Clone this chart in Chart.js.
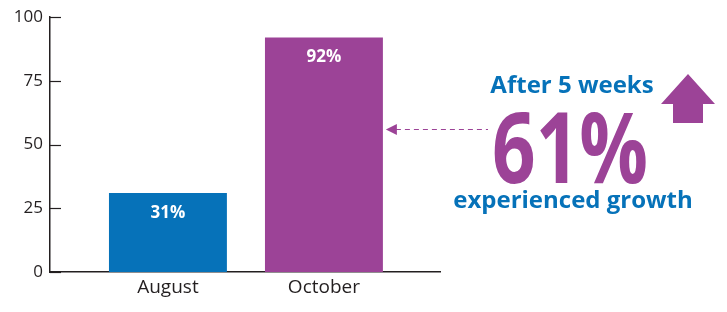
<!DOCTYPE html>
<html>
<head>
<meta charset="utf-8">
<script src="https://cdn.jsdelivr.net/npm/chart.js@4/dist/chart.umd.min.js"></script>
<style>
html,body{margin:0;padding:0;background:#fff;}
#wrap{width:727px;height:312px;position:relative;}
</style>
</head>
<body>
<div id="wrap"><canvas id="c" width="727" height="312"></canvas></div>
<script>
const categories = ['August', 'October'];
const values = [31, 92];
const barColors = ['#0672B9', '#9C4397'];
const yTicks = [0, 25, 50, 75, 100];
const headline = ['After 5 weeks', '61%', 'experienced growth'];

const FONT = '"Open Sans", sans-serif';
const AXIS = '#231F20';
const BLUE = '#0672B9';
const PURPLE = '#9C4397';

const points = values.map((v, i) => ({ x: i + 1, y: v }));

const decor = {
  id: 'decor',
  afterDatasetsDraw(chart) {
    const ctx = chart.ctx;
    const y = chart.scales.y;
    ctx.save();
    // inward y ticks
    ctx.strokeStyle = AXIS;
    ctx.lineWidth = 1.2;
    yTicks.forEach(t => {
      const py = Math.round(y.getPixelForValue(t)) + 0.5;
      ctx.beginPath();
      ctx.moveTo(chart.chartArea.left, py);
      ctx.lineTo(chart.chartArea.left + 11, py);
      ctx.stroke();
    });
    // bar value labels
    const meta = chart.getDatasetMeta(0);
    ctx.fillStyle = '#fff';
    ctx.font = 'bold 17px ' + FONT;
    ctx.textAlign = 'center';
    ctx.textBaseline = 'middle';
    meta.data.forEach((bar, i) => {
      ctx.fillText(values[i] + '%', bar.x, bar.y + 20);
    });
    // dashed pointer
    const tipX = meta.data[1].x + meta.data[1].width / 2 + 3;
    const py = 129;
    ctx.strokeStyle = PURPLE;
    ctx.lineWidth = 1;
    ctx.setLineDash([5, 4]);
    ctx.beginPath();
    ctx.moveTo(tipX + 10, py + 0.5);
    ctx.lineTo(488, py + 0.5);
    ctx.stroke();
    ctx.setLineDash([]);
    ctx.fillStyle = PURPLE;
    ctx.beginPath();
    ctx.moveTo(tipX, py + 0.5);
    ctx.lineTo(tipX + 11, py - 5);
    ctx.lineTo(tipX + 11, py + 6);
    ctx.closePath();
    ctx.fill();
    // up arrow
    ctx.beginPath();
    ctx.moveTo(688, 74);
    ctx.lineTo(715, 104);
    ctx.lineTo(703, 104);
    ctx.lineTo(703, 123);
    ctx.lineTo(673, 123);
    ctx.lineTo(673, 104);
    ctx.lineTo(661, 104);
    ctx.closePath();
    ctx.fill();
    // headline text
    ctx.textAlign = 'center';
    ctx.textBaseline = 'alphabetic';
    ctx.fillStyle = BLUE;
    ctx.font = 'bold 24px ' + FONT;
    ctx.fillText(headline[0], 572, 93, 166);
    ctx.fillStyle = PURPLE;
    ctx.font = 'bold 98px ' + FONT;
    ctx.fillText(headline[1], 570, 183, 156);
    ctx.fillStyle = BLUE;
    ctx.font = 'bold 24px ' + FONT;
    ctx.fillText(headline[2], 573, 208, 241);
    ctx.restore();
  }
};

new Chart(document.getElementById('c'), {
  type: 'bar',
  data: {
    datasets: [{
      data: points,
      backgroundColor: barColors,
      borderWidth: 0,
      categoryPercentage: 1,
      barPercentage: 0.756
    }]
  },
  options: {
    responsive: false,
    animation: false,
    devicePixelRatio: 1,
    layout: { padding: { top: 7, right: 287, bottom: 0, left: 0 } },
    plugins: { legend: { display: false }, tooltip: { enabled: false } },
    scales: {
      x: {
        type: 'linear',
        offset: false,
        min: 0.244,
        max: 2.744,
        afterBuildTicks: s => { s.ticks = categories.map((c, i) => ({ value: i + 1 })); },
        afterFit: s => { s.height = 40; },
        ticks: {
          autoSkip: false,
          maxRotation: 0,
          padding: 4,
          color: AXIS,
          font: { family: FONT, size: 19, weight: '500' },
          callback: v => categories[v - 1]
        },
        grid: { display: false, drawTicks: false, offset: false },
        border: { display: true, color: AXIS, width: 1.5 }
      },
      y: {
        min: 0,
        max: 100,
        afterBuildTicks: s => { s.ticks = yTicks.map(v => ({ value: v })); },
        afterFit: s => { s.width = 50; },
        ticks: {
          padding: 7,
          color: AXIS,
          font: { family: FONT, size: 17 }
        },
        grid: { display: false, drawTicks: false },
        border: { display: true, color: AXIS, width: 1.5 }
      }
    }
  },
  plugins: [decor]
});
</script>
</body>
</html>
